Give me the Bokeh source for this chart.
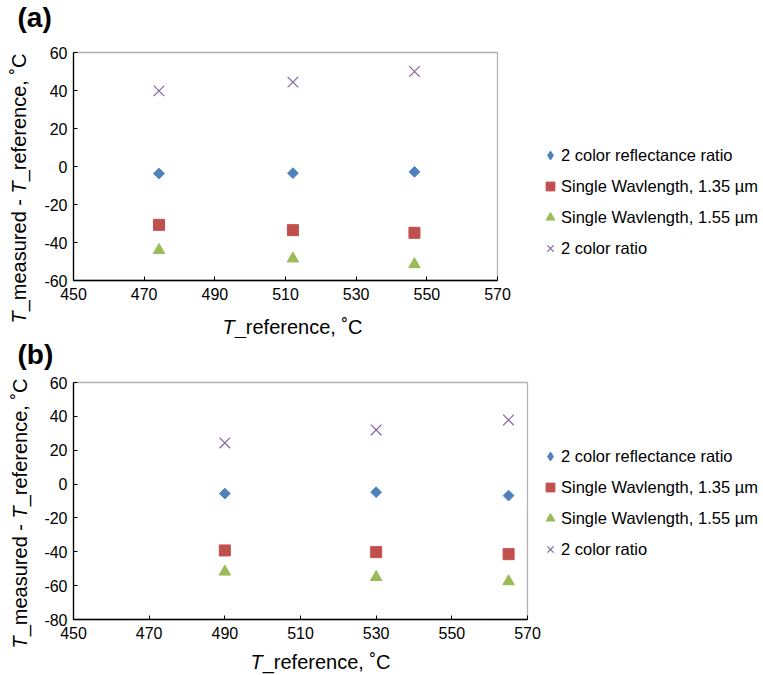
import math
from bokeh.plotting import figure
from bokeh.models import (ColumnDataSource, Range1d, FixedTicker, Legend, LegendItem,
                          Label, BoxAnnotation)
from bokeh.layouts import column
from bokeh.embed import file_html
from bokeh.resources import INLINE

# ---------------- data ----------------
x_ticks = [450, 470, 490, 510, 530, 550, 570]
ya_ticks = [-60, -40, -20, 0, 20, 40, 60]
yb_ticks = [-80, -60, -40, -20, 0, 20, 40, 60]

series_names = ["2 color reflectance ratio", "Single Wavlength, 1.35 \u00b5m",
                "Single Wavlength, 1.55 \u00b5m", "2 color ratio"]

# panel (a)
ref_a = [474.2, 512.1, 546.5]
a_refl_ratio = [-3.7, -3.5, -2.8]
a_single_135 = [-30.7, -33.5, -34.9]
a_single_155 = [-44.0, -48.5, -51.5]
a_two_color = [39.8, 44.4, 50.0]

# panel (b)
ref_b = [490, 530, 565]
b_refl_ratio = [-5.6, -4.8, -6.8]
b_single_135 = [-39.2, -40.2, -41.4]
b_single_155 = [-51.8, -55.0, -57.5]
b_two_color = [24.3, 32.0, 37.9]

# ---------------- style ----------------
FONT = "Liberation Sans"
C_BLUE = "#4F81BD"
C_RED = "#C0504D"
C_GREEN = "#9BBB59"
C_PURPLE = "#8064A2"
W = 763
SHIFT = 7  # text anchor correction (pixels)


def make_panel(tag, xs, ys_list, xr, yr, yticks, fig_h, page_top, box_l, box_r,
               box_t, box_b, legend_xy, title_base, xtitle_pos, ytitle_pos):
    # box_* are pixel positions (within this figure) of the axis box
    sx = (box_r - box_l) / (xr[1] - xr[0])
    sy = (box_b - box_t) / (yr[1] - yr[0])
    x_start = xr[0] - box_l / sx
    x_end = xr[1] + (W - box_r) / sx
    y_end = yr[1] + box_t / sy
    y_start = yr[0] - (fig_h - box_b) / sy

    p = figure(width=W, height=fig_h, output_backend="svg", toolbar_location=None,
               x_range=Range1d(x_start, x_end), y_range=Range1d(y_start, y_end),
               min_border=0, title=None)
    p.background_fill_color = "white"
    p.border_fill_color = "white"
    p.outline_line_color = None
    p.xgrid.visible = False
    p.ygrid.visible = False

    p.xaxis[0].fixed_location = yr[0]
    p.xaxis[0].bounds = xr
    p.yaxis[0].fixed_location = xr[0]
    p.yaxis[0].bounds = yr
    for ax, tk in ((p.xaxis[0], x_ticks), (p.yaxis[0], yticks)):
        ax.ticker = FixedTicker(ticks=tk)
        ax.major_label_overrides = {t: str(t) for t in tk}
        ax.major_tick_in = 4
        ax.major_tick_out = 0
        ax.minor_tick_line_color = None
        ax.axis_line_color = "#000000"
        ax.axis_line_width = 1.3
        ax.major_tick_line_color = "#000000"
        ax.major_label_text_font = FONT
        ax.major_label_text_font_size = "16px"
        ax.major_label_text_color = "#000000"
    p.xaxis[0].major_label_standoff = 7
    p.yaxis[0].major_label_standoff = 6

    p.add_layout(BoxAnnotation(left=xr[0], right=xr[1], bottom=yr[0], top=yr[1],
                               fill_color=None, line_color="#000000", line_width=1.3,
                               level="underlay"))

    ref_s, s135, s155, s2c = ys_list
    src = ColumnDataSource(dict(x=xs, d=ref_s, sq=s135, tr=s155, xx=s2c))
    p.scatter("x", "d", source=src, marker="square", size=7.6, angle=math.pi / 4,
              fill_color=C_BLUE, line_color=C_BLUE)
    r_sq = p.scatter("x", "sq", source=src, marker="square", size=11,
                     fill_color=C_RED, line_color=C_RED)
    r_tr = p.scatter("x", "tr", source=src, marker="triangle", size=11.5,
                     fill_color=C_GREEN, line_color=C_GREEN)
    r_x = p.scatter("x", "xx", source=src, marker="x", size=15,
                    line_color=C_PURPLE, line_width=1.2)
    # hidden legend proxy for the diamond (legend does not rotate markers)
    proxy = p.scatter("x", "d", source=src, marker="diamond", size=10,
                      fill_color=C_BLUE, line_color=C_BLUE, visible=False)

    legend = Legend(items=[LegendItem(label=series_names[0], renderers=[proxy]),
                           LegendItem(label=series_names[1], renderers=[r_sq]),
                           LegendItem(label=series_names[2], renderers=[r_tr]),
                           LegendItem(label=series_names[3], renderers=[r_x])],
                    location=legend_xy, padding=0, margin=0,
                    glyph_width=22, glyph_height=24, label_height=24,
                    label_standoff=0, spacing=7,
                    border_line_color=None, background_fill_alpha=0,
                    label_text_font=FONT, label_text_font_size="16.5px",
                    label_text_color="#000000")
    p.add_layout(legend, "center")

    def dx(px):
        return x_start + px / sx

    def dy(py):  # py given in page pixels
        return y_end - (py - page_top) / sy

    def lab(txt, px, py, size, style="normal", angle=0.0):
        p.add_layout(Label(x=dx(px), y=dy(py), text=txt, text_font=FONT,
                           text_font_size=size, text_font_style=style,
                           text_color="#000000", angle=angle,
                           text_align="left", text_baseline="alphabetic"))

    # panel tag
    lab(tag, 17, title_base - SHIFT, "28px", style="bold")
    # x axis title
    tx, tyb = xtitle_pos
    lab("T", tx, tyb - SHIFT, "20px", style="italic")
    lab("_reference, \u02daC", tx + 12.2, tyb - SHIFT, "20px")
    # y axis title (rotated)
    yx, yy = ytitle_pos
    yx -= SHIFT
    a = math.pi / 2
    lab("T", yx, yy, "20px", style="italic", angle=a)
    lab("_measured - ", yx, yy - 12.2, "20px", angle=a)
    lab("T", yx, yy - 12.2 - 117.8, "20px", style="italic", angle=a)
    lab("_reference, \u02daC", yx, yy - 12.2 - 117.8 - 12.2, "20px", angle=a)
    return p


HA = 338
HB = 337
pa = make_panel("(a)", ref_a, [a_refl_ratio, a_single_135, a_single_155, a_two_color],
                (450, 570), (-60, 60), ya_ticks, fig_h=HA, page_top=0,
                box_l=73, box_r=497, box_t=52, box_b=280,
                legend_xy=(539, HA - 260), title_base=24,
                xtitle_pos=(222, 333), ytitle_pos=(25, 323))
pb = make_panel("(b)", ref_b, [b_refl_ratio, b_single_135, b_single_155, b_two_color],
                (450, 570), (-80, 60), yb_ticks, fig_h=HB, page_top=HA,
                box_l=73, box_r=527, box_t=382 - HA, box_b=619 - HA,
                legend_xy=(539, HB - (561 - HA)), title_base=361,
                xtitle_pos=(250, 668), ytitle_pos=(26, 648))

layout = column(pa, pb, spacing=0)
open("out.html", "w").write(file_html(layout, INLINE))
